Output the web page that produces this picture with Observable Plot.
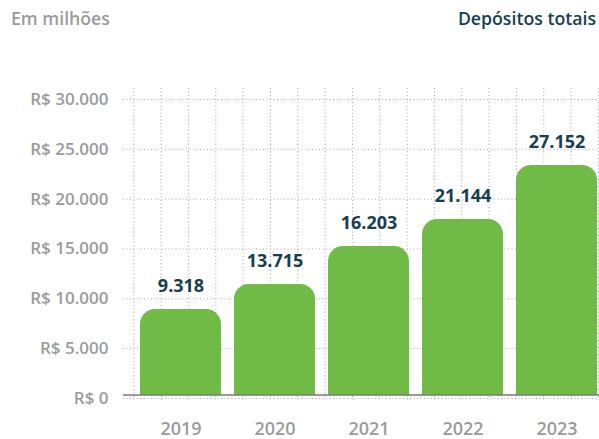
<!DOCTYPE html>
<html>
<head>
<meta charset="utf-8">
<script src="https://cdn.jsdelivr.net/npm/d3@7"></script>
<script src="https://cdn.jsdelivr.net/npm/@observablehq/plot@0.6"></script>
<style>
  html, body { margin: 0; padding: 0; background: #fff; }
  #wrap { position: relative; width: 599px; height: 439px; overflow: hidden; font-family: "Open Sans", sans-serif; }
  #wrap svg { position: absolute; left: 0; top: 0; }
  .title { position: absolute; top: 6px; font-size: 17.7px; font-weight: 600; white-space: nowrap; z-index: 2; }
  #left { left: 11px; color: #9b9b9b; }
  #right { right: 3px; color: #17404f; }
</style>
</head>
<body>
<div id="wrap">
  <div class="title" id="left">Em milhões</div>
  <div class="title" id="right">Depósitos totais</div>
</div>
<script>
// Data
const years = ["2019", "2020", "2021", "2022", "2023"];
const labelValues = [9318, 13715, 16203, 21144, 27152];   // printed values
const barHeights = [8930, 11440, 15250, 17960, 23380];    // bar heights as drawn in the picture
const yTicks = [0, 5000, 10000, 15000, 20000, 25000, 30000];
const gridColumns = d3.range(18);

const data = years.map((year, i) => ({ year, label: labelValues[i], height: barHeights[i] }));

const br = d3.formatLocale({ decimal: ",", thousands: ".", grouping: [3], currency: ["R$ ", ""] });
const fmt = br.format(",d");

const green = "#6fbb46";
const teal = "#17404f";
const grey = "#9b9b9b";
const W = 599, H = 439;

// Background dotted grid
const grid = Plot.plot({
  width: W, height: H,
  marginLeft: 123, marginRight: 0, marginTop: 88, marginBottom: 39,
  style: { background: "transparent" },
  x: { type: "linear", domain: [0, 17], range: [133.3, 597.9], axis: null },
  y: { domain: [0, 30000], range: [398, 99], axis: null },
  marks: [
    Plot.ruleX(gridColumns, { stroke: "#aaaaaa", strokeDasharray: "1,2.5" }),
    Plot.ruleY(yTicks, { stroke: "#aaaaaa", strokeDasharray: "1,2.5" })
  ]
});

// Main chart
const chart = Plot.plot({
  width: W, height: H,
  marginLeft: 123, marginRight: 0, marginTop: 99, marginBottom: 41,
  style: { background: "transparent", fontFamily: "Open Sans, sans-serif" },
  x: { domain: years, range: [132.25, 603.75], paddingInner: 0.143, paddingOuter: 0.0715, label: null },
  y: { domain: [0, 30000], label: null },
  marks: [
    Plot.axisY(yTicks, {
      tickSize: 0, tickPadding: 15, fontSize: 17, fontWeight: 600, fill: grey, label: null,
      tickFormat: d => "R$ " + fmt(d)
    }),
    Plot.axisX({ tickSize: 0, tickPadding: 24, fontSize: 18, fontWeight: 600, fill: grey, label: null }),
    Plot.barY(data, { x: "year", y: "height", fill: green, rx: 15, insetBottom: 3 }),
    Plot.barY(data, { x: "year", y: d => d.height / 2, fill: green, insetBottom: 3 }),
    Plot.ruleY([0], { dy: -3.5, stroke: "#7a7a7a", strokeWidth: 1.5 }),
    Plot.text(data, {
      x: "year", y: "height", text: d => fmt(d.label),
      dy: -23, fontSize: 18, fontWeight: 700, fill: teal
    })
  ]
});

const wrap = document.getElementById("wrap");
wrap.insertBefore(grid, wrap.firstChild);
wrap.insertBefore(chart, grid.nextSibling);
</script>
</body>
</html>
